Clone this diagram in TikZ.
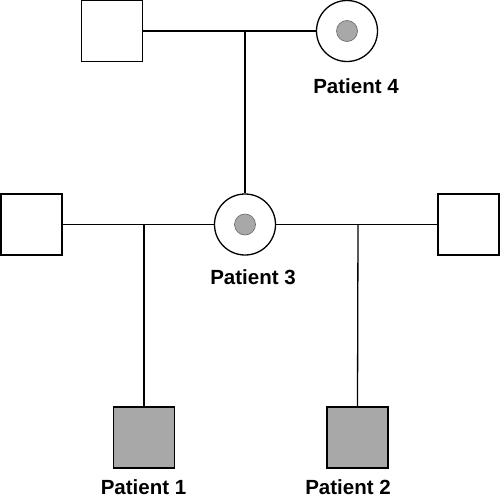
\documentclass[tikz,border=0pt]{standalone}
\usepackage{fontspec}
\setmainfont{Liberation Sans}
\definecolor{affgray}{HTML}{A8A8A8}
\begin{document}
\begin{tikzpicture}[x=1pt,y=-1pt,
  line width=1.3pt,
  male/.style={draw=black, fill=white, rectangle, minimum size=61pt, inner sep=0pt},
  affmale/.style={male, fill=affgray},
  carrier/.style={draw=black, fill=white, circle, minimum size=61pt, inner sep=0pt},
  dot/.style={circle, fill=affgray, draw=gray!80!black, line width=0.6pt, minimum size=21pt, inner sep=0pt},
  lbl/.style={font=\bfseries\fontsize{20.5}{24}\selectfont, inner sep=0pt, anchor=base}]
\useasboundingbox (0,0) rectangle (500,498);
% generation I
\node[male] (m1) at (112,31) {};
\node[carrier] (p4) at (347,31) {};
\node[dot] (p4d) at (p4) {};
\node[lbl] (l4) at (356,93) {Patient 4};
\coordinate (j0) at (245,31);
\draw (m1.east) -- (p4.west);
% generation II
\node[male] (m2) at (31.5,224.5) {};
\node[carrier] (p3) at (245,224.5) {};
\node[dot] (p3d) at (p3) {};
\node[male] (m3) at (468.5,224.5) {};
\node[lbl] (l3) at (253,284) {Patient 3};
\draw (j0) -- (p3.north);
\draw (m2.east) -- (p3.west);
\draw (p3.east) -- (m3.west);
\coordinate (j1) at (144,224.5);
\coordinate (j2) at (358,224.5);
% generation III
\node[affmale] (p1) at (144,437.5) {};
\node[affmale] (p2) at (357.5,437.5) {};
\node[lbl] (l1) at (143.5,494) {Patient 1};
\node[lbl] (l2) at (348,494) {Patient 2};
\draw (j1) -- (p1.north);
\draw (j2) -- (p2.north);
\end{tikzpicture}
\end{document}
